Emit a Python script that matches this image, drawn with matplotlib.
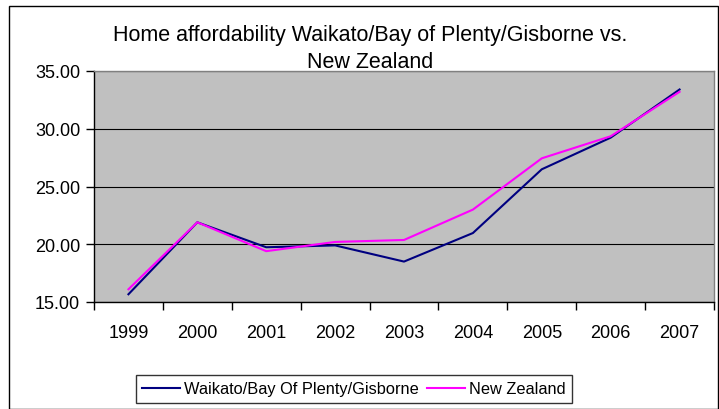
import matplotlib
matplotlib.use("Agg")
import matplotlib.pyplot as plt
from matplotlib.patches import Rectangle
from matplotlib.ticker import FixedLocator, NullFormatter, FixedFormatter

years = ["1999", "2000", "2001", "2002", "2003", "2004", "2005", "2006", "2007"]
waikato = [15.67, 21.9, 19.74, 19.9, 18.5, 20.97, 26.49, 29.23, 33.4]
new_zealand = [16.1, 21.9, 19.4, 20.2, 20.37, 23.0, 27.44, 29.35, 33.2]
series_names = ["Waikato/Bay Of Plenty/Gisborne", "New Zealand"]
yticks = [15, 20, 25, 30, 35]

plt.rcParams['font.family'] = ['Liberation Sans', 'DejaVu Sans']

W, H = 719, 410
fig = plt.figure(figsize=(W / 100, H / 100), dpi=100)
fig.patch.set_facecolor("white")

# outer chart border
fig.patches.append(Rectangle((9 / W, 0), (718 - 9) / W, 1 - 7 / H, transform=fig.transFigure,
                             fill=False, edgecolor="black", linewidth=1.0))

ax = fig.add_axes([94 / W, 1 - 303 / H, (714 - 94) / W, (303 - 72) / H])
ax.set_facecolor("#C0C0C0")

x = list(range(len(years)))
ax.plot(x, waikato, color="#000080", linewidth=1.5, label=series_names[0], zorder=3)
ax.plot(x, new_zealand, color="#FF00FF", linewidth=1.5, label=series_names[1], zorder=3)

ax.set_xlim(-0.5, len(years) - 0.5)
ax.set_ylim(15, 35)

ax.xaxis.set_major_locator(FixedLocator([i - 0.5 for i in range(len(years) + 1)]))
ax.xaxis.set_major_formatter(NullFormatter())
ax.xaxis.set_minor_locator(FixedLocator(x))
ax.xaxis.set_minor_formatter(FixedFormatter(years))
ax.tick_params(axis="x", which="major", direction="out", length=6, width=1, color="black")
ax.tick_params(axis="x", which="minor", length=0, pad=16, labelsize=13)

ax.set_yticks(yticks)
ax.set_yticklabels([f"{v:.2f}" for v in yticks])
ax.tick_params(axis="y", direction="out", length=6, width=1, pad=4, labelsize=13)

ax.grid(axis="y", color="black", linewidth=0.8)
ax.set_axisbelow(True)

for s in ["left", "bottom"]:
    ax.spines[s].set_color("black")
    ax.spines[s].set_linewidth(1.0)
for s in ["top", "right"]:
    ax.spines[s].set_color("#808080")
    ax.spines[s].set_linewidth(1.0)

fig.text(370 / W, 1 - 35 / H, "Home affordability Waikato/Bay of Plenty/Gisborne vs.",
         ha="center", va="center", fontsize=15.5)
fig.text(370 / W, 1 - 62 / H, "New Zealand", ha="center", va="center", fontsize=15.5)

leg = fig.legend(loc="center", bbox_to_anchor=(354 / W, 1 - 390 / H), ncol=2,
                 fontsize=11.8, frameon=True, fancybox=False, handlelength=2.3,
                 handletextpad=0.25, columnspacing=0.5, borderpad=0.4)
leg.get_frame().set_edgecolor("black")
leg.get_frame().set_linewidth(1.0)

fig.savefig("out.png", dpi=100)
